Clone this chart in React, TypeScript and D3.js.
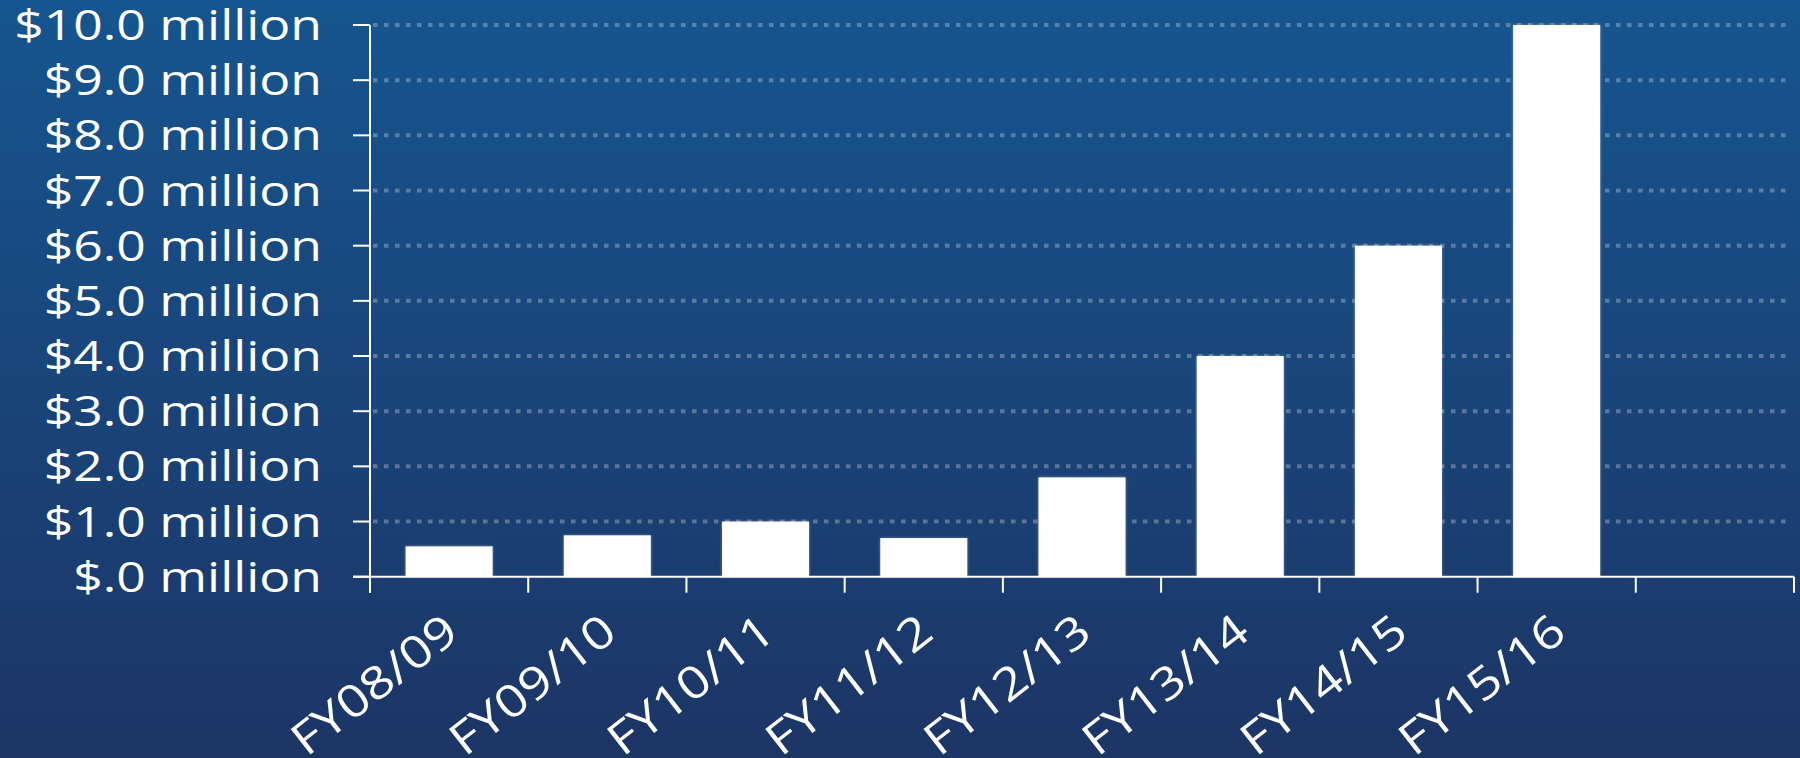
import React from "react";
import * as d3 from "d3";

const categories = ["FY08/09", "FY09/10", "FY10/11", "FY11/12", "FY12/13", "FY13/14", "FY14/15", "FY15/16", ""];
const values = [0.55, 0.75, 1.0, 0.7, 1.8, 4.0, 6.0, 10.0];
const yTicks = [0, 1, 2, 3, 4, 5, 6, 7, 8, 9, 10];
const yTickLabel = (v: number) => (v === 0 ? "$.0 million" : `$${v.toFixed(1)} million`);

const W = 1800;
const H = 758;
const FONT = "'Open Sans', 'DejaVu Sans', sans-serif";
const SX = 1.23;
const SXL = 1.17;

export default function App() {
  const x0 = 370, x1 = 1794, yTop = 25, yBot = 576.7;
  const x = d3.scaleBand<string>().domain(categories).range([x0, x1]).paddingInner(0.45).paddingOuter(0.225);
  const y = d3.scaleLinear().domain([0, 10]).range([yBot, yTop]);
  const step = x.step();
  const tickXs = d3.range(categories.length + 1).map((i) => x0 + i * step);

  return (
    <svg width={W} height={H} style={{ position: "absolute", left: 0, top: 0, display: "block" }}>
      <defs>
        <linearGradient id="bg" x1="0" y1="0" x2="0" y2="1">
          <stop offset="0" stopColor="#16558f" />
          <stop offset="1" stopColor="#1c3565" />
        </linearGradient>
        <filter id="glow" x="-10%" y="-10%" width="120%" height="120%">
          <feDropShadow dx="0" dy="0" stdDeviation="1.5" floodColor="#ffffff" floodOpacity="0.35" />
        </filter>
      </defs>
      <rect x={0} y={0} width={W} height={H} fill="url(#bg)" />
      {/* grid */}
      {yTicks.filter((t) => t > 0).map((t) => (
        <line key={"g" + t} x1={x0 + 3} x2={1790} y1={y(t)} y2={y(t)} stroke="#ffffff" strokeOpacity={0.28} strokeWidth={4} strokeDasharray="4.5 6.5" />
      ))}
      {/* bars */}
      {values.map((v, i) => (
        <rect key={"b" + i} x={x(categories[i])!} y={y(v)} width={x.bandwidth()} height={yBot - y(v)} fill="#ffffff" filter="url(#glow)" />
      ))}
      {/* axes */}
      <line x1={x0} x2={x0} y1={yTop} y2={yBot + 16} stroke="#fff" strokeWidth={2} />
      <line x1={x0 - 17} x2={x1} y1={yBot} y2={yBot} stroke="#fff" strokeWidth={2} />
      {yTicks.map((t) => (
        <line key={"yt" + t} x1={x0 - 17} x2={x0} y1={y(t)} y2={y(t)} stroke="#fff" strokeWidth={2} />
      ))}
      {tickXs.map((tx, i) => (
        <line key={"xt" + i} x1={tx} x2={tx} y1={yBot} y2={yBot + 16} stroke="#fff" strokeWidth={2} />
      ))}
      {/* y labels */}
      {yTicks.map((t) => (
        <text key={"yl" + t} transform={`translate(322,${y(t) + 15}) scale(${SX},1)`} textAnchor="end" fill="#fff" fontFamily={FONT} fontSize={42}>
          {yTickLabel(t)}
        </text>
      ))}
      {/* x labels */}
      {categories.map((c, i) =>
        c ? (
          <text key={"xl" + i} transform={`translate(${x(c)! + x.bandwidth() / 2 + 12},${yBot + 60}) rotate(-38) scale(${SXL},1)`} textAnchor="end" fill="#fff" fontFamily={FONT} fontSize={45}>
            {c}
          </text>
        ) : null
      )}
    </svg>
  );
}
